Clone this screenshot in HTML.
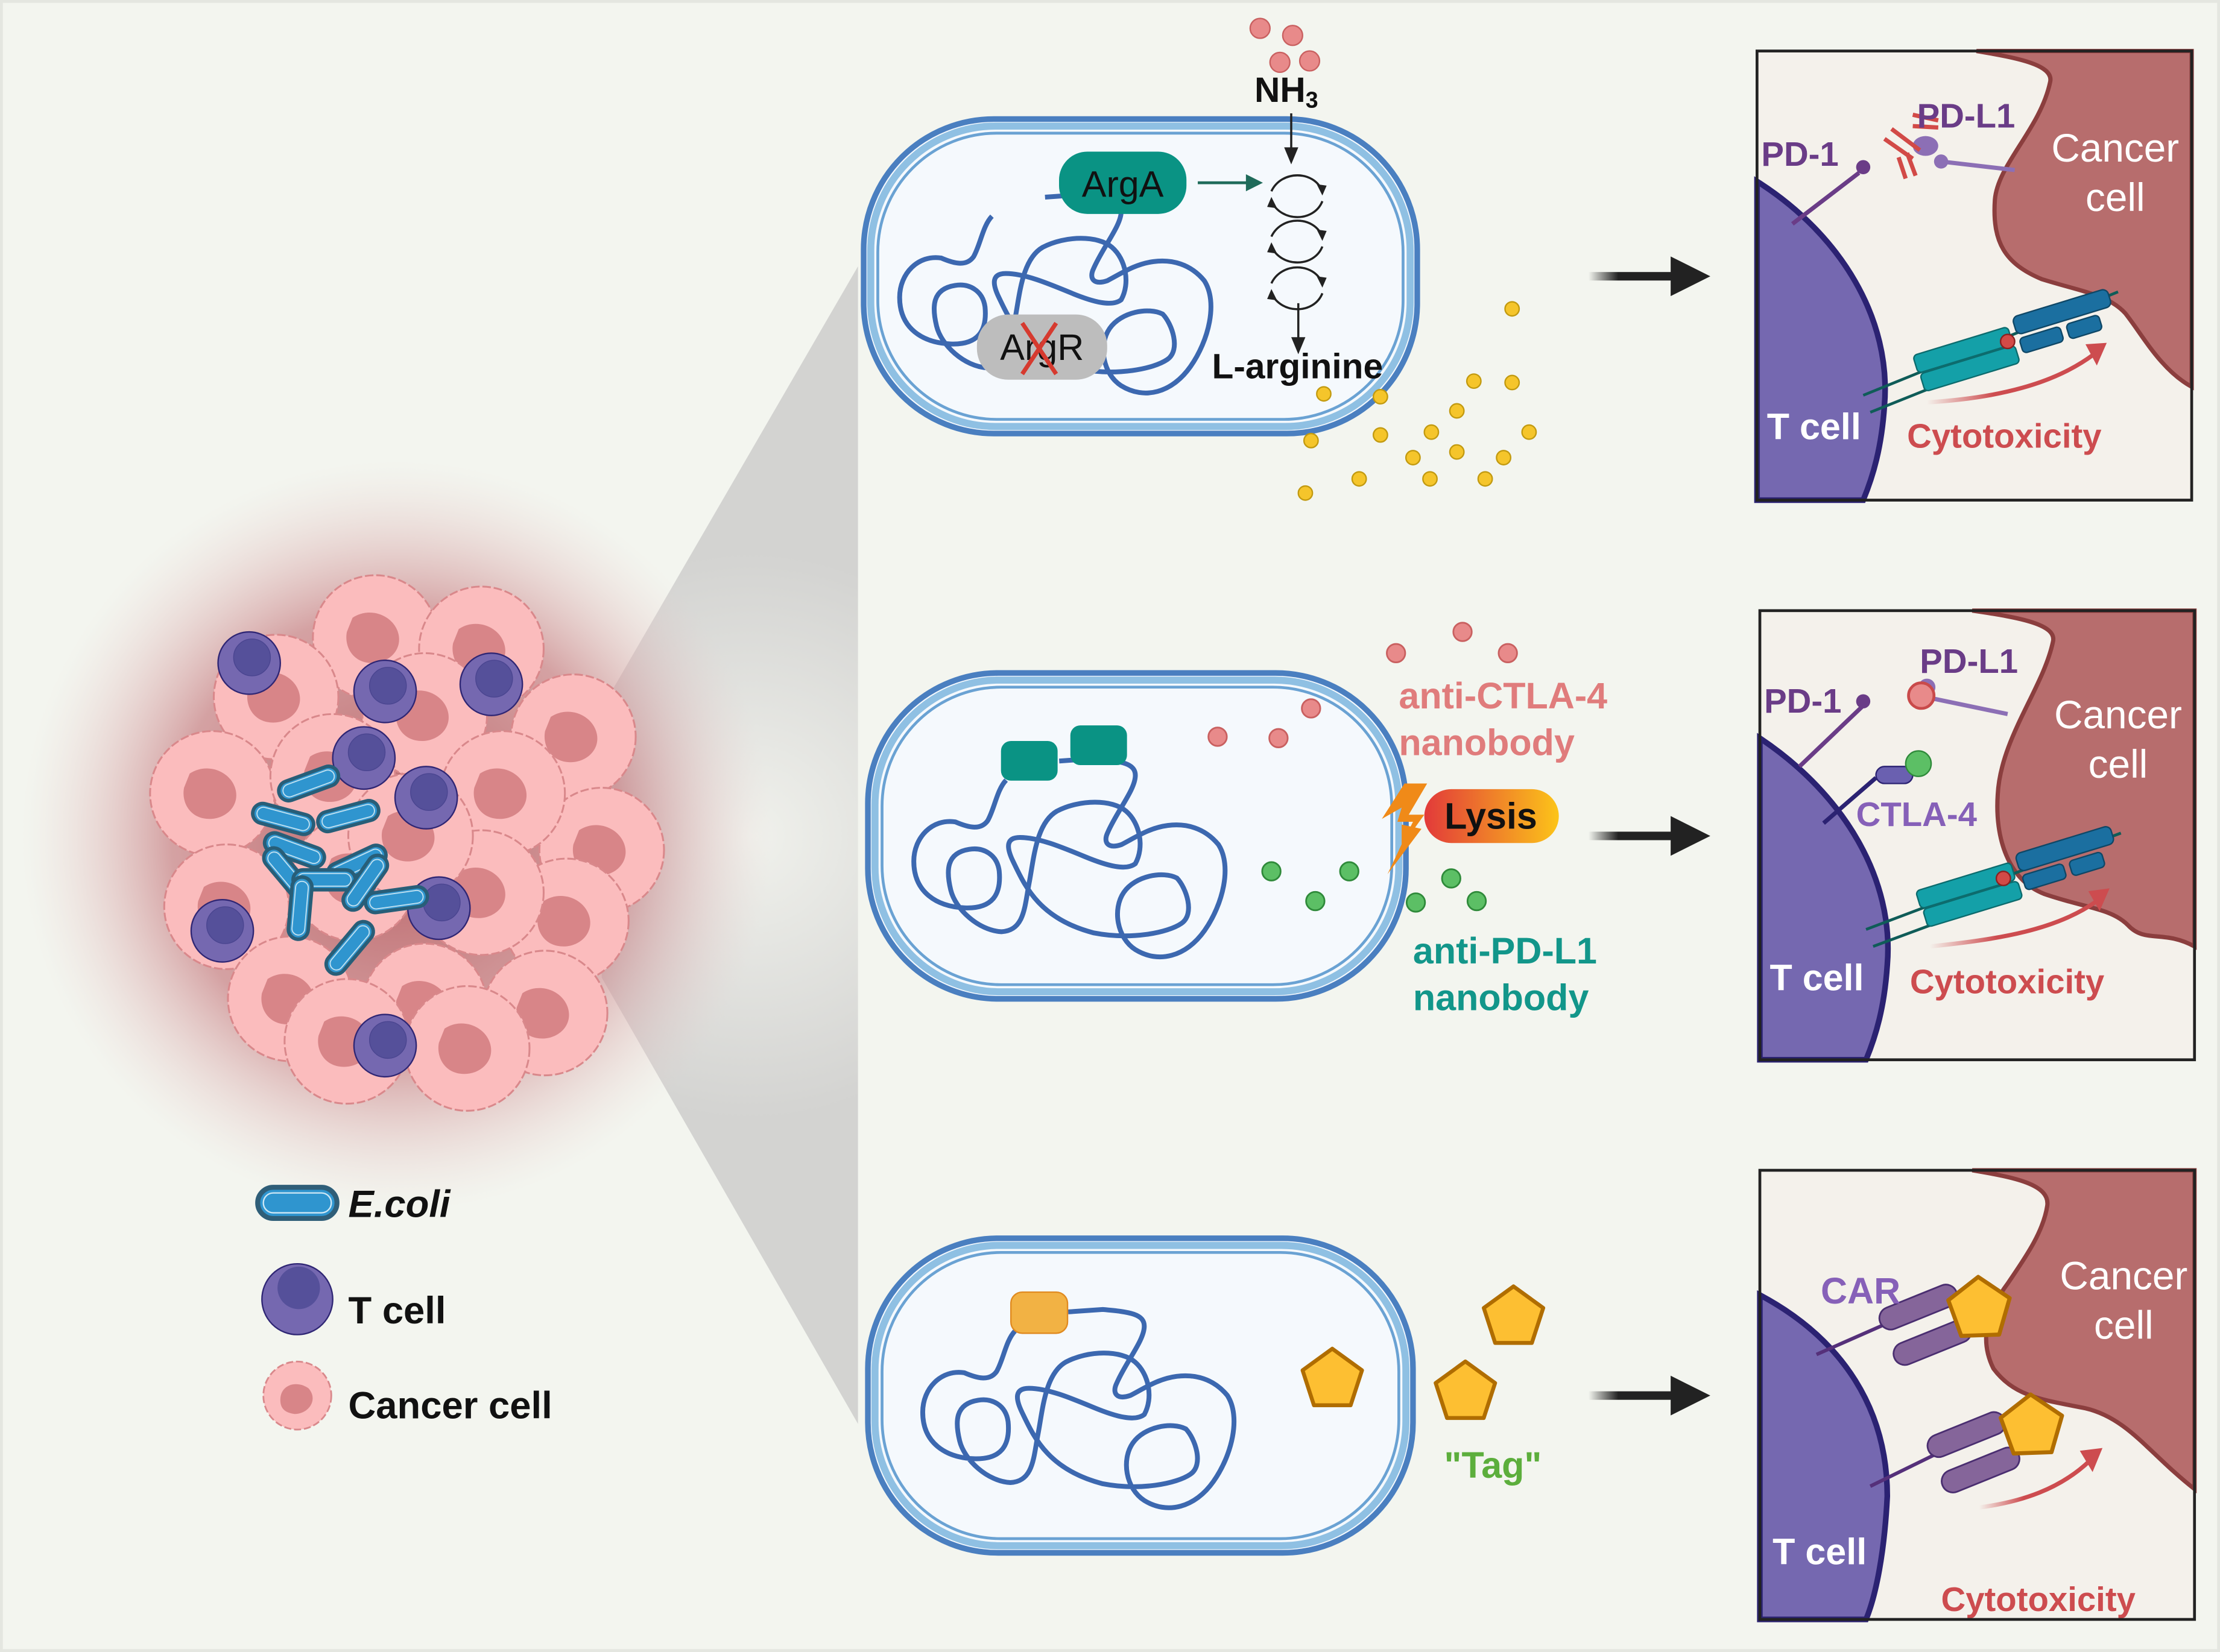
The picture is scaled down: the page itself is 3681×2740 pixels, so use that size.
<!DOCTYPE html>
<html><head><meta charset="utf-8"><style>
html,body{margin:0;padding:0;background:#f3f5ef;}
svg{display:block;}
text{font-family:"Liberation Sans",sans-serif;}
</style></head><body>
<svg width="3681" height="2740" viewBox="0 0 1568 1166" preserveAspectRatio="none" xmlns="http://www.w3.org/2000/svg">
<defs>
<radialGradient id="glow" cx="280" cy="590" r="265" gradientUnits="userSpaceOnUse">
<stop offset="0" stop-color="#b0474d" stop-opacity="0.85"/>
<stop offset="0.6" stop-color="#c06a70" stop-opacity="0.6"/>
<stop offset="1" stop-color="#e8c8c8" stop-opacity="0"/>
</radialGradient>
<radialGradient id="cone" cx="530" cy="590" r="200" gradientUnits="userSpaceOnUse">
<stop offset="0" stop-color="#f0f1ec"/>
<stop offset="1" stop-color="#d3d3d1"/>
</radialGradient>
<linearGradient id="lysis" x1="0" x2="1"><stop offset="0" stop-color="#e23a3a"/><stop offset="1" stop-color="#fcc419"/></linearGradient>
<linearGradient id="arr" x1="0" x2="1"><stop offset="0" stop-color="#222" stop-opacity="0"/><stop offset="0.35" stop-color="#222"/></linearGradient>
<linearGradient id="cyto" x1="0" x2="1"><stop offset="0" stop-color="#cd4c4f" stop-opacity="0"/><stop offset="0.4" stop-color="#cd4c4f"/></linearGradient>
<g id="chrom"><path d="M370,520 C350,560 345,640 330,690 C315,730 290,720 260,695 C210,680 170,760 170,860 C170,990 220,1050 280,1055 C340,1060 360,1000 355,900 C350,830 320,800 290,810 C240,825 240,900 250,980 C260,1060 310,1150 360,1155 C410,1150 410,1050 420,950 C430,850 435,700 480,650 C530,600 600,600 630,650 C660,700 670,800 650,870 C630,900 590,880 540,840 C490,800 440,760 400,760 C370,760 370,800 385,860 C410,960 440,1100 560,1160 C640,1190 720,1160 750,1120 C780,1080 760,970 740,930 C710,900 650,920 625,990 C600,1060 610,1180 650,1230 C700,1290 760,1260 800,1150 C840,1040 860,880 830,790 C800,720 760,700 720,710 C680,720 650,760 620,790 C590,810 580,780 590,740 C610,650 650,560 650,500 C650,450 620,440 560,430 L485,440" fill="none" stroke="#3c68b0" stroke-width="8" vector-effect="non-scaling-stroke"/></g>
<g id="tc"><circle r="22" fill="#7568b0" stroke="#2f2674" stroke-width="1"/><circle cx="2" cy="-4" r="13" fill="#55509a" stroke="#4a4590" stroke-width="0.6"/></g>
<g id="cc"><circle r="44" fill="#fbbcbd" stroke="#d9888b" stroke-width="1.3" stroke-dasharray="6 2"/><path d="M-16,-14 C-4,-22 12,-16 16,-4 C20,8 10,18 -2,18 C-16,18 -22,6 -20,-4Z" fill="#d88588"/></g>
<g id="eco"><rect x="-22" y="-7" width="44" height="14" rx="7" fill="#2f95cf" stroke="#285e78" stroke-width="2.5"/><rect x="-19" y="-4.5" width="38" height="9" rx="4.5" fill="none" stroke="#bfe0f0" stroke-width="0.8"/></g>
<polygon id="pent" points="24,0 7.4,22.8 -19.4,14.1 -19.4,-14.1 7.4,-22.8" fill="#fdbf32" stroke="#b06d00" stroke-width="3" stroke-linejoin="round"/>
</defs>
<rect width="1568" height="1166" fill="#f3f5ef"/>
<rect x="1" y="1" width="1566" height="1164" fill="none" stroke="#e4e6e0" stroke-width="2"/>

<!-- cone -->
<polygon points="425,500 606,188 606,1005 425,690" fill="url(#cone)"/>

<!-- tumor -->
<circle cx="280" cy="590" r="265" fill="url(#glow)"/>
<g>
<use href="#cc" x="265" y="450"/><use href="#cc" x="340" y="458"/><use href="#cc" x="195" y="492"/>
<use href="#cc" x="405" y="520"/><use href="#cc" x="150" y="560"/><use href="#cc" x="425" y="600"/>
<use href="#cc" x="300" y="505"/><use href="#cc" x="235" y="548"/><use href="#cc" x="355" y="560"/>
<use href="#cc" x="160" y="640"/><use href="#cc" x="400" y="650"/><use href="#cc" x="205" y="705"/>
<use href="#cc" x="300" y="710"/><use href="#cc" x="385" y="715"/><use href="#cc" x="245" y="735"/>
<use href="#cc" x="330" y="740"/><use href="#cc" x="250" y="620"/><use href="#cc" x="340" y="630"/>
<use href="#cc" x="290" y="590"/>
</g>
<use href="#tc" x="176" y="468"/><use href="#tc" x="272" y="488"/><use href="#tc" x="347" y="483"/>
<use href="#tc" x="257" y="535"/><use href="#tc" x="301" y="563"/><use href="#tc" x="157" y="657"/>
<use href="#tc" x="310" y="641"/><use href="#tc" x="272" y="738"/>
<g>
<use href="#eco" transform="translate(218,553) rotate(-20)"/>
<use href="#eco" transform="translate(200,578) rotate(15)"/>
<use href="#eco" transform="translate(246,576) rotate(-15)"/>
<use href="#eco" transform="translate(208,600) rotate(20)"/>
<use href="#eco" transform="translate(203,617) rotate(50)"/>
<use href="#eco" transform="translate(252,610) rotate(-25)"/>
<use href="#eco" transform="translate(229,621) rotate(0)"/>
<use href="#eco" transform="translate(258,623) rotate(-55)"/>
<use href="#eco" transform="translate(212,641) rotate(-85)"/>
<use href="#eco" transform="translate(280,635) rotate(-8)"/>
<use href="#eco" transform="translate(247,669) rotate(-50)"/>
</g>

<!-- legend -->
<rect x="182" y="838" width="56" height="22" rx="11" fill="#2f95cf" stroke="#2f5e78" stroke-width="3.5"/>
<rect x="186" y="842" width="48" height="14" rx="7" fill="none" stroke="#cfe8f5" stroke-width="1"/>
<text x="246" y="859" font-size="27" font-weight="bold" font-style="italic" fill="#111">E.coli</text>
<ellipse cx="210" cy="917" rx="25" ry="25" fill="#7568b0" stroke="#2f2674" stroke-width="1"/>
<circle cx="211" cy="909" r="15" fill="#55509a"/>
<text x="246" y="934" font-size="27" font-weight="bold" fill="#111">T cell</text>
<circle cx="210" cy="985" r="24" fill="#fbbcbd" stroke="#d9888b" stroke-width="1.2" stroke-dasharray="5 2"/>
<path d="M198,988 C198,977 210,974 218,980 C225,988 218,998 208,998 C201,997 198,994 198,988Z" fill="#d88588"/>
<text x="246" y="1001" font-size="27" font-weight="bold" fill="#111">Cancer cell</text>

<!-- bacteria shells -->
<g fill="#f5f9fd" stroke-linejoin="round">
<rect x="610" y="84" width="391" height="222" rx="92" stroke="#4a7fc0" stroke-width="4"/>
<rect x="615" y="89" width="381" height="212" rx="88" fill="none" stroke="#8fc0e3" stroke-width="5"/>
<rect x="620" y="94" width="371" height="202" rx="84" fill="#f5f9fd" stroke="#6aa2d3" stroke-width="2"/>

<rect x="613" y="475" width="380" height="230" rx="92" stroke="#4a7fc0" stroke-width="4"/>
<rect x="618" y="480" width="370" height="220" rx="88" fill="none" stroke="#8fc0e3" stroke-width="5"/>
<rect x="623" y="485" width="360" height="210" rx="84" fill="#f5f9fd" stroke="#6aa2d3" stroke-width="2"/>

<rect x="613" y="874" width="385" height="222" rx="92" stroke="#4a7fc0" stroke-width="4"/>
<rect x="618" y="879" width="375" height="212" rx="88" fill="none" stroke="#8fc0e3" stroke-width="5"/>
<rect x="623" y="884" width="365" height="202" rx="84" fill="#f5f9fd" stroke="#6aa2d3" stroke-width="2"/>
</g>

<!-- chromosomes -->
<g transform="translate(580,65) scale(0.326,0.1685)"><use href="#chrom"/></g>
<g transform="translate(590,463) scale(0.326,0.1685)"><use href="#chrom"/></g>
<g transform="translate(596.3,851.8) scale(0.326,0.1685)"><use href="#chrom"/></g>

<!-- top bacterium content -->
<rect x="748" y="107" width="90" height="44" rx="20" fill="#0a9384"/>
<text x="793" y="139" font-size="26" text-anchor="middle" fill="#111">ArgA</text>
<rect x="690" y="222" width="92" height="46" rx="22" fill="#bdbdbd"/>
<text x="736" y="254" font-size="26" text-anchor="middle" fill="#111">ArgR</text>
<path d="M722,228 L746,264 M746,228 L722,264" stroke="#d63a2f" stroke-width="3"/>
<path d="M846,129 L884,129" stroke="#1f6b5a" stroke-width="2"/>
<polygon points="892,129 880,123 880,135" fill="#1f6b5a"/>
<g fill="none" stroke="#222" stroke-width="1.5">
<path d="M898,135 C905,120 928,120 934,135"/><path d="M898,142 C905,157 928,157 934,142"/>
<path d="M898,167 C905,152 928,152 934,167"/><path d="M898,174 C905,189 928,189 934,174"/>
<path d="M898,200 C905,185 928,185 934,200"/><path d="M898,207 C905,222 928,222 934,207"/>
</g>
<g fill="#222"><polygon points="934,138 930,130 937,131"/><polygon points="898,139 902,147 895,146"/><polygon points="934,170 930,162 937,163"/><polygon points="898,171 902,179 895,178"/><polygon points="934,203 930,195 937,196"/><polygon points="898,204 902,212 895,211"/></g>
<path d="M912,80 L912,108 M917,214 L917,240" stroke="#222" stroke-width="1.5"/>
<polygon points="912,116 907,104 917,104" fill="#222"/><polygon points="917,250 912,238 922,238" fill="#222"/>
<g fill="#e88a8a" stroke="#c96060" stroke-width="1"><circle cx="890" cy="20" r="7"/><circle cx="913" cy="25" r="7"/><circle cx="904" cy="44" r="7"/><circle cx="925" cy="43" r="7"/></g>
<text x="886" y="72" font-size="25" font-weight="bold" fill="#111">NH<tspan font-size="16" dy="4">3</tspan></text>
<text x="856" y="267" font-size="25" font-weight="bold" fill="#111">L-arginine</text>
<g fill="#f5c52b" stroke="#c29a10" stroke-width="1">
<circle cx="1068" cy="218" r="5"/><circle cx="1041" cy="269" r="5"/><circle cx="1068" cy="270" r="5"/><circle cx="935" cy="278" r="5"/><circle cx="975" cy="280" r="5"/>
<circle cx="1029" cy="290" r="5"/><circle cx="1080" cy="305" r="5"/><circle cx="1011" cy="305" r="5"/><circle cx="926" cy="311" r="5"/><circle cx="975" cy="307" r="5"/>
<circle cx="998" cy="323" r="5"/><circle cx="1029" cy="319" r="5"/><circle cx="1062" cy="323" r="5"/><circle cx="960" cy="338" r="5"/><circle cx="1010" cy="338" r="5"/><circle cx="1049" cy="338" r="5"/><circle cx="922" cy="348" r="5"/>
</g>

<!-- middle bacterium content -->
<rect x="707" y="523" width="40" height="28" rx="7" fill="#0a9384"/>
<rect x="756" y="512" width="40" height="28" rx="7" fill="#0a9384"/>
<g fill="#e88a8a" stroke="#c96060" stroke-width="1.2"><circle cx="860" cy="520" r="6.5"/><circle cx="903" cy="521" r="6.5"/><circle cx="926" cy="500" r="6.5"/><circle cx="986" cy="461" r="6.5"/><circle cx="1033" cy="446" r="6.5"/><circle cx="1065" cy="461" r="6.5"/></g>
<g fill="#5cbf65" stroke="#2f8a3a" stroke-width="1.2"><circle cx="898" cy="615" r="6.5"/><circle cx="929" cy="636" r="6.5"/><circle cx="953" cy="615" r="6.5"/><circle cx="1000" cy="637" r="6.5"/><circle cx="1025" cy="620" r="6.5"/><circle cx="1043" cy="636" r="6.5"/></g>
<text x="988" y="500" font-size="26" font-weight="bold" fill="#e07c7c">anti-CTLA-4</text>
<text x="988" y="533" font-size="26" font-weight="bold" fill="#e07c7c">nanobody</text>
<text x="998" y="680" font-size="26" font-weight="bold" fill="#12968a">anti-PD-L1</text>
<text x="998" y="713" font-size="26" font-weight="bold" fill="#12968a">nanobody</text>
<rect x="1006" y="557" width="95" height="38" rx="19" fill="url(#lysis)"/>
<text x="1053" y="585" font-size="26" font-weight="bold" text-anchor="middle" fill="#111">Lysis</text>
<polygon points="992,553 1008,553 995,575 1006,575 988,600 998,580 987,580 990,570 976,578" fill="#f08a18"/>
<polygon points="990,582 1004,585 980,617 990,596" fill="#f08a18"/>

<!-- bottom bacterium content -->
<rect x="714" y="912" width="40" height="29" rx="8" fill="#f2b244" stroke="#e08a20" stroke-width="1"/>
<use href="#pent" transform="translate(941,974) rotate(-18) scale(0.92)"/>
<use href="#pent" transform="translate(1069,930) rotate(-18) scale(0.92)"/>
<use href="#pent" transform="translate(1035,983) rotate(-18) scale(0.92)"/>
<text x="1020" y="1043" font-size="26" font-weight="bold" fill="#5cae3c">"Tag"</text>

<!-- arrows -->
<rect x="1122" y="192" width="60" height="6" fill="url(#arr)"/><polygon points="1180,181 1208,195 1180,209" fill="#222"/>
<rect x="1122" y="587" width="60" height="6" fill="url(#arr)"/><polygon points="1180,576 1208,590 1180,604" fill="#222"/>
<rect x="1122" y="982" width="60" height="6" fill="url(#arr)"/><polygon points="1180,971 1208,985 1180,999" fill="#222"/>

<!-- panel 1 -->
<g transform="translate(1241,36)">
<rect x="0" y="0" width="307" height="317" fill="#f4f1eb"/>
<path d="M155,0 C185,5 210,10 207,22 C200,55 170,80 168,105 C166,135 175,150 201,161 C230,170 248,172 260,185 C272,200 285,225 307,237 L307,0Z" fill="#b76d6d" stroke="#8b3e3e" stroke-width="3"/>
<path d="M0,92 C60,130 95,190 90,250 C88,280 82,300 75,317 L0,317Z" fill="#7568b0" stroke="#2b2272" stroke-width="4"/>
<path d="M25,122 L72,86" stroke="#6a3c87" stroke-width="3"/><circle cx="75" cy="82" r="5" fill="#6a3c87"/>
<path d="M130,78 L182,84" stroke="#8c6fb5" stroke-width="3"/><ellipse cx="119" cy="67" rx="9" ry="7" fill="#8c6fb5"/><circle cx="130" cy="78" r="5" fill="#8c6fb5"/>
<path d="M95,55 L115,70 M90,62 L110,76 M100,75 L105,90 M106,72 L112,88" stroke="#d24a47" stroke-width="3"/>
<path d="M110,45 L128,49 M110,53 L128,54" stroke="#d24a47" stroke-width="3"/>
<path d="M75,243 L255,170 M80,255 L180,215" stroke="#0f5c58" stroke-width="2"/>
<rect x="110" y="215" width="70" height="13" rx="3" fill="#14a0a8" stroke="#0c6b6d" transform="rotate(-17 110 215)"/>
<rect x="115" y="228" width="70" height="13" rx="3" fill="#14a0a8" stroke="#0c6b6d" transform="rotate(-17 115 228)"/>
<rect x="180" y="188" width="70" height="13" rx="4" fill="#1b6fa0" stroke="#0f4766" transform="rotate(-17 180 188)"/>
<rect x="185" y="203" width="30" height="11" rx="3" fill="#1b6fa0" stroke="#0f4766" transform="rotate(-17 185 203)"/>
<rect x="218" y="193" width="24" height="11" rx="3" fill="#1b6fa0" stroke="#0f4766" transform="rotate(-17 218 193)"/>
<circle cx="177" cy="205" r="5" fill="#d24a47" stroke="#8b2020"/>
<path d="M120,248 C170,245 210,235 238,214" fill="none" stroke="url(#cyto)" stroke-width="3"/>
<polygon points="247,206 232,207 240,222" fill="#cd4c4f"/>
<text x="3" y="81" font-size="24" font-weight="bold" fill="#6a3c87">PD-1</text>
<text x="113" y="54" font-size="24" font-weight="bold" fill="#6a3c87">PD-L1</text>
<text x="253" y="78" font-size="28" text-anchor="middle" fill="#fff">Cancer</text>
<text x="253" y="113" font-size="28" text-anchor="middle" fill="#fff">cell</text>
<text x="7" y="274" font-size="26" font-weight="bold" fill="#fff">T cell</text>
<text x="106" y="280" font-size="24" font-weight="bold" fill="#cd4c4f">Cytotoxicity</text>
<rect x="0" y="0" width="307" height="317" fill="none" stroke="#222" stroke-width="2"/>
</g>

<!-- panel 2 -->
<g transform="translate(1243,431)">
<rect x="0" y="0" width="307" height="317" fill="#f4f1eb"/>
<path d="M150,0 C185,5 210,10 207,22 C200,55 170,90 168,130 C166,160 175,190 201,200 C230,210 248,210 260,222 C272,235 285,225 307,237 L307,0Z" fill="#b76d6d" stroke="#8b3e3e" stroke-width="3"/>
<path d="M0,90 C60,130 95,190 90,250 C88,280 82,300 75,317 L0,317Z" fill="#7568b0" stroke="#2b2272" stroke-width="4"/>
<path d="M28,110 L72,68" stroke="#6a3c87" stroke-width="3"/><circle cx="73" cy="64" r="5" fill="#6a3c87"/>
<path d="M122,62 L175,73" stroke="#8c6fb5" stroke-width="3"/><circle cx="118" cy="54" r="6" fill="#8c6fb5"/>
<circle cx="114" cy="60" r="9" fill="#e88a8a" stroke="#c94a4a" stroke-width="2"/>
<path d="M45,150 L82,118" stroke="#2b2272" stroke-width="3"/><rect x="82" y="110" width="26" height="12" rx="6" fill="#6a60b0" stroke="#2b2272"/>
<circle cx="112" cy="108" r="9" fill="#5cbf65" stroke="#2f8a3a"/>
<path d="M75,225 L255,157 M80,237 L180,200" stroke="#0f5c58" stroke-width="2"/>
<rect x="110" y="198" width="70" height="13" rx="3" fill="#14a0a8" stroke="#0c6b6d" transform="rotate(-17 110 198)"/>
<rect x="115" y="211" width="70" height="13" rx="3" fill="#14a0a8" stroke="#0c6b6d" transform="rotate(-17 115 211)"/>
<rect x="180" y="172" width="70" height="13" rx="4" fill="#1b6fa0" stroke="#0f4766" transform="rotate(-17 180 172)"/>
<rect x="185" y="187" width="30" height="11" rx="3" fill="#1b6fa0" stroke="#0f4766" transform="rotate(-17 185 187)"/>
<rect x="218" y="177" width="24" height="11" rx="3" fill="#1b6fa0" stroke="#0f4766" transform="rotate(-17 218 177)"/>
<circle cx="172" cy="189" r="5" fill="#d24a47" stroke="#8b2020"/>
<path d="M120,237 C170,232 210,225 238,205" fill="none" stroke="url(#cyto)" stroke-width="3"/>
<polygon points="247,196 232,198 240,212" fill="#cd4c4f"/>
<text x="3" y="72" font-size="24" font-weight="bold" fill="#6a3c87">PD-1</text>
<text x="113" y="44" font-size="24" font-weight="bold" fill="#6a3c87">PD-L1</text>
<text x="68" y="152" font-size="24" font-weight="bold" fill="#8660b8">CTLA-4</text>
<text x="253" y="83" font-size="28" text-anchor="middle" fill="#fff">Cancer</text>
<text x="253" y="118" font-size="28" text-anchor="middle" fill="#fff">cell</text>
<text x="7" y="268" font-size="26" font-weight="bold" fill="#fff">T cell</text>
<text x="106" y="270" font-size="24" font-weight="bold" fill="#cd4c4f">Cytotoxicity</text>
<rect x="0" y="0" width="307" height="317" fill="none" stroke="#222" stroke-width="2"/>
</g>

<!-- panel 3 -->
<g transform="translate(1243,826)">
<rect x="0" y="0" width="307" height="317" fill="#f4f1eb"/>
<path d="M150,0 C180,5 205,10 203,25 C200,45 185,65 175,80 C160,100 155,120 165,140 C180,160 200,162 230,168 C260,175 275,200 307,225 L307,0Z" fill="#b76d6d" stroke="#8b3e3e" stroke-width="3"/>
<path d="M0,88 C60,120 90,170 90,230 C88,270 82,300 75,317 L0,317Z" fill="#7568b0" stroke="#2b2272" stroke-width="4"/>
<path d="M40,130 L90,108 M78,223 L125,200" stroke="#55307a" stroke-width="2.5"/>
<g fill="#85659a" stroke="#4a2e70" stroke-width="1.2">
<rect x="82" y="100" width="58" height="16" rx="8" transform="rotate(-22 82 100)"/>
<rect x="92" y="125" width="58" height="16" rx="8" transform="rotate(-22 92 125)"/>
<rect x="116" y="190" width="58" height="16" rx="8" transform="rotate(-22 116 190)"/>
<rect x="126" y="215" width="58" height="16" rx="8" transform="rotate(-22 126 215)"/>
</g>
<use href="#pent" transform="translate(155,98) rotate(-20) scale(0.95)"/>
<use href="#pent" transform="translate(192,181) rotate(-20) scale(0.95)"/>
<path d="M155,238 C185,234 212,225 233,205" fill="none" stroke="url(#cyto)" stroke-width="3"/>
<polygon points="242,196 226,198 235,213" fill="#cd4c4f"/>
<text x="43" y="94" font-size="26" font-weight="bold" fill="#8660b8">CAR</text>
<text x="257" y="84" font-size="28" text-anchor="middle" fill="#fff">Cancer</text>
<text x="257" y="119" font-size="28" text-anchor="middle" fill="#fff">cell</text>
<text x="9" y="278" font-size="26" font-weight="bold" fill="#fff">T cell</text>
<text x="128" y="311" font-size="24" font-weight="bold" fill="#cd4c4f">Cytotoxicity</text>
<rect x="0" y="0" width="307" height="317" fill="none" stroke="#222" stroke-width="2"/>
</g>
</svg>
</body></html>
